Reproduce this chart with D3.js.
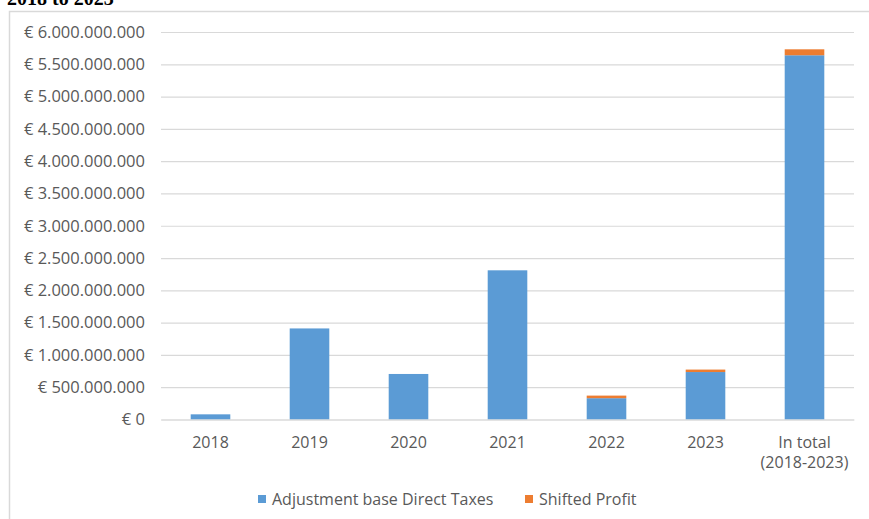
<!DOCTYPE html>
<html>
<head>
<meta charset="utf-8">
<script src="https://cdn.jsdelivr.net/npm/d3@7/dist/d3.min.js"></script>
<style>
  html, body { margin: 0; padding: 0; background: #ffffff; }
  svg { display: block; }
</style>
</head>
<body>
<svg id="chart" width="869" height="519"></svg>
<script>
// Categories along the x axis
const categories = ["2018", "2019", "2020", "2021", "2022", "2023", "In total|(2018-2023)"];
// Stacked series values (euro)
const adjustmentBase = [80e6, 1410e6, 705e6, 2310e6, 330e6, 735e6, 5640e6];
const shiftedProfit  = [0, 0, 0, 0, 40e6, 38e6, 92e6];
// Y tick values
const yTicks = [0, 5e8, 1e9, 1.5e9, 2e9, 2.5e9, 3e9, 3.5e9, 4e9, 4.5e9, 5e9, 5.5e9, 6e9];
const seriesNames = ["Adjustment base Direct Taxes", "Shifted Profit"];
const seriesColors = ["#5b9bd5", "#ed7d31"];

const svg = d3.select("#chart");
const font = "'Open Sans', 'Noto Sans', sans-serif";
const textColor = "#595959";

// Heading above the chart frame, running off the top edge
svg.append("text")
  .attr("x", 7).attr("y", 5)
  .attr("font-family", "'Liberation Serif', serif")
  .attr("font-weight", "bold")
  .attr("font-size", 20)
  .attr("fill", "#000")
  .text("2018 to 2023");

// Chart frame
svg.append("rect")
  .attr("x", 9.5).attr("y", 11.5)
  .attr("width", 880).attr("height", 530)
  .attr("fill", "#fff")
  .attr("stroke", "#d9d9d9")
  .attr("stroke-width", 1.5);

const x = d3.scaleBand().domain(categories).range([161, 854]).paddingInner(0.6).paddingOuter(0.3);
const y = d3.scaleLinear().domain([0, 6e9]).range([419.5, 32]);

const fmt = v => "€ " + d3.format(",")(v).replace(/,/g, ".");

// Gridlines and y labels
const yAxis = d3.axisLeft(y).tickValues(yTicks).tickSize(-(854 - 161)).tickPadding(16).tickFormat(fmt);
const gy = svg.append("g").attr("transform", "translate(161,0)").call(yAxis);
gy.select(".domain").remove();
gy.selectAll(".tick line").attr("stroke", "#d9d9d9").attr("stroke-width", 1.2);
gy.selectAll(".tick text")
  .attr("font-family", font).attr("font-size", 16.5).attr("fill", textColor);

// Stacked bars
const rows = categories.map((c, i) => ({ cat: c, a: adjustmentBase[i], s: shiftedProfit[i] }));
const stack = d3.stack().keys(["a", "s"])(rows);
svg.append("g").selectAll("g").data(stack).join("g")
  .attr("fill", (d, i) => seriesColors[i])
  .selectAll("rect").data(d => d).join("rect")
  .attr("x", d => x(d.data.cat))
  .attr("width", x.bandwidth())
  .attr("y", d => y(d[1]))
  .attr("height", d => y(d[0]) - y(d[1]));

// X axis labels
const xAxis = d3.axisBottom(x).tickSize(0).tickPadding(0).tickFormat("");
const gx = svg.append("g").attr("transform", "translate(0,419.5)").call(xAxis);
gx.select(".domain").attr("stroke", "#d9d9d9").attr("stroke-width", 1.2);
gx.selectAll(".tick").each(function(d) {
  const lines = d.split("|");
  const t = d3.select(this).append("text")
    .attr("text-anchor", "middle")
    .attr("font-family", font).attr("font-size", 16).attr("fill", textColor);
  lines.forEach((ln, k) => {
    t.append("tspan").attr("x", 0).attr("y", 28 + k * 20.5).text(ln);
  });
});

// Legend
const legend = svg.append("g").attr("transform", "translate(0,499)");
const legendX = [258, 525];
seriesNames.forEach((name, i) => {
  legend.append("rect")
    .attr("x", legendX[i]).attr("y", -4).attr("width", 8).attr("height", 8)
    .attr("fill", seriesColors[i]);
  legend.append("text")
    .attr("x", legendX[i] + 14).attr("y", 5.5)
    .attr("font-family", font).attr("font-size", 16).attr("fill", textColor)
    .text(name);
});
</script>
</body>
</html>
